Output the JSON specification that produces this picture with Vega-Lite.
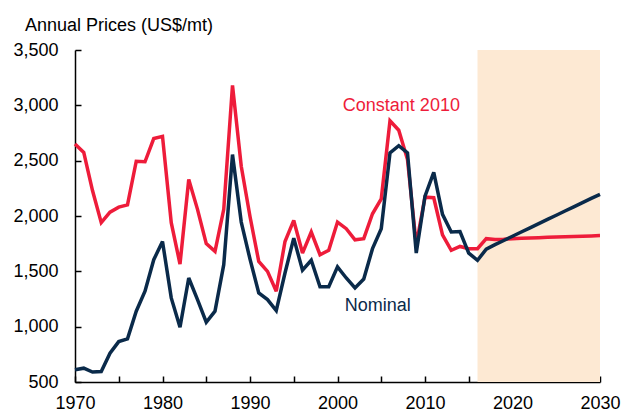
{
  "$schema": "https://vega.github.io/schema/vega-lite/v6.json",
  "width": 525,
  "height": 332,
  "autosize": {"type": "none"},
  "padding": {"left": 75, "top": 50, "right": 21, "bottom": 33},
  "background": "white",
  "config": {
    "view": {"stroke": null},
    "font": "Liberation Sans",
    "axis": {
      "grid": false,
      "domainColor": "black",
      "domainWidth": 1.5,
      "tickColor": "black",
      "tickWidth": 1.5,
      "tickSize": -6,
      "labelFont": "Liberation Sans",
      "labelFontSize": 18,
      "labelColor": "black",
      "labelFlush": false,
      "labelOverlap": false,
      "title": null,
      "zindex": 1
    }
  },
  "title": {
    "text": "Annual Prices (US$/mt)",
    "anchor": "start",
    "frame": "group",
    "dx": -50,
    "dy": 28,
    "offset": 20,
    "baseline": "alphabetic",
    "font": "Liberation Sans",
    "fontSize": 18,
    "fontWeight": "normal",
    "color": "black"
  },
  "datasets": {
    "prices": [
      {"year": 1970, "series": "Constant 2010", "price": 2650},
      {"year": 1971, "series": "Constant 2010", "price": 2575},
      {"year": 1972, "series": "Constant 2010", "price": 2230},
      {"year": 1973, "series": "Constant 2010", "price": 1940},
      {"year": 1974, "series": "Constant 2010", "price": 2035},
      {"year": 1975, "series": "Constant 2010", "price": 2080},
      {"year": 1976, "series": "Constant 2010", "price": 2100},
      {"year": 1977, "series": "Constant 2010", "price": 2495},
      {"year": 1978, "series": "Constant 2010", "price": 2490},
      {"year": 1979, "series": "Constant 2010", "price": 2700},
      {"year": 1980, "series": "Constant 2010", "price": 2720},
      {"year": 1981, "series": "Constant 2010", "price": 1940},
      {"year": 1982, "series": "Constant 2010", "price": 1565},
      {"year": 1983, "series": "Constant 2010", "price": 2330},
      {"year": 1984, "series": "Constant 2010", "price": 2060},
      {"year": 1985, "series": "Constant 2010", "price": 1750},
      {"year": 1986, "series": "Constant 2010", "price": 1680},
      {"year": 1987, "series": "Constant 2010", "price": 2060},
      {"year": 1988, "series": "Constant 2010", "price": 3180},
      {"year": 1989, "series": "Constant 2010", "price": 2450},
      {"year": 1990, "series": "Constant 2010", "price": 1995},
      {"year": 1991, "series": "Constant 2010", "price": 1590},
      {"year": 1992, "series": "Constant 2010", "price": 1500},
      {"year": 1993, "series": "Constant 2010", "price": 1320},
      {"year": 1994, "series": "Constant 2010", "price": 1770},
      {"year": 1995, "series": "Constant 2010", "price": 1960},
      {"year": 1996, "series": "Constant 2010", "price": 1665},
      {"year": 1997, "series": "Constant 2010", "price": 1855},
      {"year": 1998, "series": "Constant 2010", "price": 1650},
      {"year": 1999, "series": "Constant 2010", "price": 1690},
      {"year": 2000, "series": "Constant 2010", "price": 1945},
      {"year": 2001, "series": "Constant 2010", "price": 1885},
      {"year": 2002, "series": "Constant 2010", "price": 1785},
      {"year": 2003, "series": "Constant 2010", "price": 1795},
      {"year": 2004, "series": "Constant 2010", "price": 2020},
      {"year": 2005, "series": "Constant 2010", "price": 2155},
      {"year": 2006, "series": "Constant 2010", "price": 2860},
      {"year": 2007, "series": "Constant 2010", "price": 2775},
      {"year": 2008, "series": "Constant 2010", "price": 2510},
      {"year": 2009, "series": "Constant 2010", "price": 1740},
      {"year": 2010, "series": "Constant 2010", "price": 2170},
      {"year": 2011, "series": "Constant 2010", "price": 2165},
      {"year": 2012, "series": "Constant 2010", "price": 1830},
      {"year": 2013, "series": "Constant 2010", "price": 1690},
      {"year": 2014, "series": "Constant 2010", "price": 1725},
      {"year": 2015, "series": "Constant 2010", "price": 1705},
      {"year": 2016, "series": "Constant 2010", "price": 1705},
      {"year": 2017, "series": "Constant 2010", "price": 1795},
      {"year": 2018, "series": "Constant 2010", "price": 1787},
      {"year": 2019, "series": "Constant 2010", "price": 1790},
      {"year": 2020, "series": "Constant 2010", "price": 1795},
      {"year": 2021, "series": "Constant 2010", "price": 1798},
      {"year": 2022, "series": "Constant 2010", "price": 1801},
      {"year": 2023, "series": "Constant 2010", "price": 1804},
      {"year": 2024, "series": "Constant 2010", "price": 1807},
      {"year": 2025, "series": "Constant 2010", "price": 1810},
      {"year": 2026, "series": "Constant 2010", "price": 1813},
      {"year": 2027, "series": "Constant 2010", "price": 1815},
      {"year": 2028, "series": "Constant 2010", "price": 1818},
      {"year": 2029, "series": "Constant 2010", "price": 1820},
      {"year": 2030, "series": "Constant 2010", "price": 1823},
      {"year": 1970, "series": "Nominal", "price": 610},
      {"year": 1971, "series": "Nominal", "price": 625},
      {"year": 1972, "series": "Nominal", "price": 590},
      {"year": 1973, "series": "Nominal", "price": 595},
      {"year": 1974, "series": "Nominal", "price": 760},
      {"year": 1975, "series": "Nominal", "price": 865},
      {"year": 1976, "series": "Nominal", "price": 890},
      {"year": 1977, "series": "Nominal", "price": 1140},
      {"year": 1978, "series": "Nominal", "price": 1320},
      {"year": 1979, "series": "Nominal", "price": 1605},
      {"year": 1980, "series": "Nominal", "price": 1770},
      {"year": 1981, "series": "Nominal", "price": 1260},
      {"year": 1982, "series": "Nominal", "price": 995},
      {"year": 1983, "series": "Nominal", "price": 1440},
      {"year": 1984, "series": "Nominal", "price": 1245},
      {"year": 1985, "series": "Nominal", "price": 1040},
      {"year": 1986, "series": "Nominal", "price": 1140},
      {"year": 1987, "series": "Nominal", "price": 1560},
      {"year": 1988, "series": "Nominal", "price": 2555},
      {"year": 1989, "series": "Nominal", "price": 1945},
      {"year": 1990, "series": "Nominal", "price": 1610},
      {"year": 1991, "series": "Nominal", "price": 1305},
      {"year": 1992, "series": "Nominal", "price": 1245},
      {"year": 1993, "series": "Nominal", "price": 1145},
      {"year": 1994, "series": "Nominal", "price": 1485},
      {"year": 1995, "series": "Nominal", "price": 1800},
      {"year": 1996, "series": "Nominal", "price": 1510},
      {"year": 1997, "series": "Nominal", "price": 1600},
      {"year": 1998, "series": "Nominal", "price": 1360},
      {"year": 1999, "series": "Nominal", "price": 1360},
      {"year": 2000, "series": "Nominal", "price": 1540},
      {"year": 2001, "series": "Nominal", "price": 1440},
      {"year": 2002, "series": "Nominal", "price": 1350},
      {"year": 2003, "series": "Nominal", "price": 1430},
      {"year": 2004, "series": "Nominal", "price": 1705},
      {"year": 2005, "series": "Nominal", "price": 1885},
      {"year": 2006, "series": "Nominal", "price": 2570},
      {"year": 2007, "series": "Nominal", "price": 2635},
      {"year": 2008, "series": "Nominal", "price": 2570},
      {"year": 2009, "series": "Nominal", "price": 1665},
      {"year": 2010, "series": "Nominal", "price": 2180},
      {"year": 2011, "series": "Nominal", "price": 2395},
      {"year": 2012, "series": "Nominal", "price": 2015},
      {"year": 2013, "series": "Nominal", "price": 1855},
      {"year": 2014, "series": "Nominal", "price": 1860},
      {"year": 2015, "series": "Nominal", "price": 1665},
      {"year": 2016, "series": "Nominal", "price": 1600},
      {"year": 2017, "series": "Nominal", "price": 1700},
      {"year": 2018, "series": "Nominal", "price": 1741},
      {"year": 2019, "series": "Nominal", "price": 1779},
      {"year": 2020, "series": "Nominal", "price": 1817},
      {"year": 2021, "series": "Nominal", "price": 1855},
      {"year": 2022, "series": "Nominal", "price": 1893},
      {"year": 2023, "series": "Nominal", "price": 1931},
      {"year": 2024, "series": "Nominal", "price": 1969},
      {"year": 2025, "series": "Nominal", "price": 2007},
      {"year": 2026, "series": "Nominal", "price": 2045},
      {"year": 2027, "series": "Nominal", "price": 2083},
      {"year": 2028, "series": "Nominal", "price": 2121},
      {"year": 2029, "series": "Nominal", "price": 2159},
      {"year": 2030, "series": "Nominal", "price": 2195}
    ],
    "forecast": [
      {"start": 2016, "end": 2030, "low": 500, "high": 3500}
    ],
    "labels": [
      {"series": "Constant 2010", "text": "Constant 2010", "year": 2007.3, "price": 2995},
      {"series": "Nominal", "text": "Nominal", "year": 2004.6, "price": 1185}
    ]
  },
  "layer": [
    {
      "data": {"name": "forecast"},
      "mark": {"type": "rect", "color": "#FDE9D3"},
      "encoding": {
        "x": {
          "field": "start",
          "type": "quantitative",
          "scale": {"domain": [1970, 2030], "nice": false, "zero": false},
          "axis": {
            "values": [1970, 1975, 1980, 1985, 1990, 1995, 2000, 2005, 2010, 2015, 2020, 2025, 2030],
            "format": "d",
            "labelExpr": "datum.value % 10 === 0 ? datum.label : ''",
            "labelPadding": 18
          }
        },
        "x2": {"field": "end"},
        "y": {
          "field": "low",
          "type": "quantitative",
          "scale": {"domain": [500, 3500], "nice": false, "zero": false},
          "axis": {
            "values": [500, 1000, 1500, 2000, 2500, 3000, 3500],
            "format": ",d",
            "labelPadding": 23
          }
        },
        "y2": {"field": "high"}
      }
    },
    {
      "data": {"name": "prices"},
      "mark": {"type": "line", "strokeWidth": 3.5, "strokeJoin": "miter", "strokeMiterLimit": 3},
      "encoding": {
        "x": {"field": "year", "type": "quantitative"},
        "y": {"field": "price", "type": "quantitative"},
        "color": {
          "field": "series",
          "type": "nominal",
          "scale": {"domain": ["Constant 2010", "Nominal"], "range": ["#EE1C3A", "#0A2A4A"]},
          "legend": null
        },
        "order": {"field": "year"}
      }
    },
    {
      "data": {"name": "labels"},
      "mark": {"type": "text", "fontSize": 18, "font": "Liberation Sans", "align": "center", "baseline": "middle"},
      "encoding": {
        "x": {"field": "year", "type": "quantitative"},
        "y": {"field": "price", "type": "quantitative"},
        "text": {"field": "text"},
        "color": {"field": "series", "type": "nominal", "legend": null}
      }
    }
  ]
}
